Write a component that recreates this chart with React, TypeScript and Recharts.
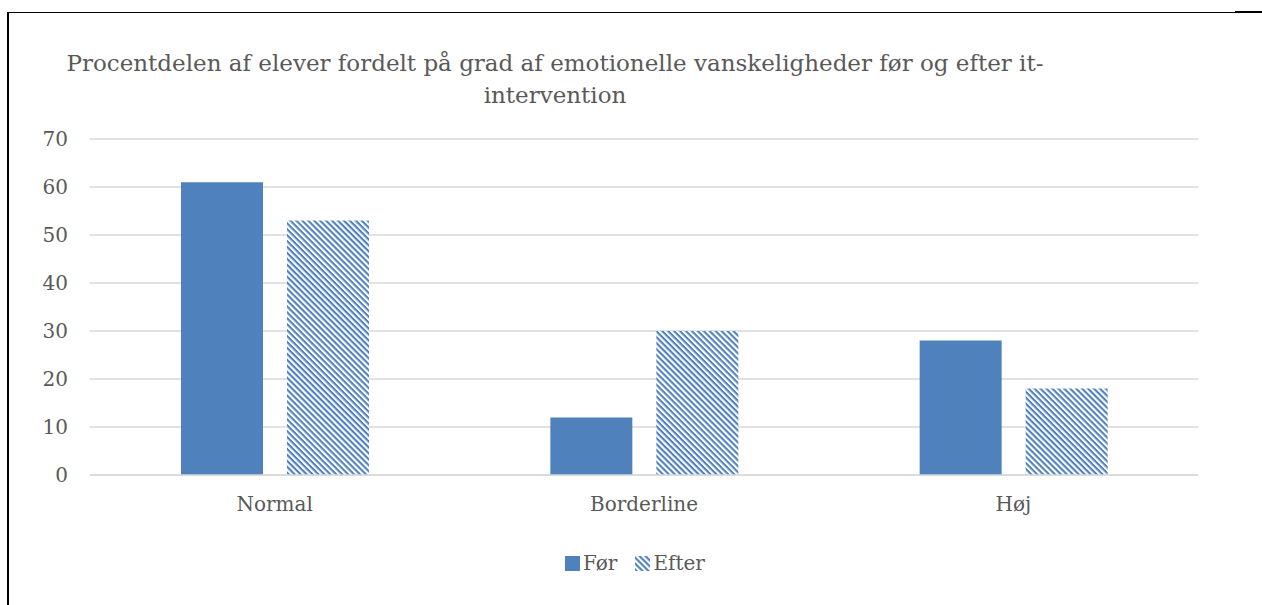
import React from "react";
import { BarChart, Bar, XAxis, YAxis, CartesianGrid } from "recharts";

const categories = ["Normal", "Borderline", "Høj"];
const forValues = [61, 12, 28];
const efterValues = [53, 30, 18];
const yTicks = [0, 10, 20, 30, 40, 50, 60, 70];

const BLUE = "#4F81BD";
const TEXT = "#595959";
const FONT = "'DejaVu Serif', serif";

const data = categories.map((name, i) => ({ name, for: forValues[i], efter: efterValues[i] }));

export default function App() {
  return (
    <div style={{ position: "absolute", left: 0, top: 0, width: 1262, height: 605, background: "#fff", fontFamily: FONT }}>
      {/* page frame */}
      <div style={{ position: "absolute", left: 7, top: 12, width: 2, height: 593, background: "#000" }} />
      <div style={{ position: "absolute", left: 7, top: 12, width: 1228, height: 1, background: "#000" }} />
      <div style={{ position: "absolute", left: 1235, top: 11, width: 27, height: 2, background: "#000" }} />

      <div style={{ position: "absolute", left: 5, width: 1100, top: 47, textAlign: "center", fontSize: 23, lineHeight: "32px", color: TEXT, whiteSpace: "nowrap" }}>
        Procentdelen af elever fordelt på grad af emotionelle vanskeligheder før og efter it-
        <br />
        intervention
      </div>

      <div style={{ position: "absolute", left: 0, top: 0 }}>
        <BarChart width={1262} height={605} data={data}
          margin={{ top: 139, right: 64, bottom: 80, left: 0 }}
          barSize={82} barGap={24}>
          <defs>
            <pattern id="hatch" width="4.2" height="4.2" patternUnits="userSpaceOnUse" patternTransform="rotate(45)">
              <rect width="4.2" height="4.2" fill="#fff" />
              <rect width="4.2" height="2.1" fill={BLUE} />
            </pattern>
          </defs>
          <CartesianGrid vertical={false} stroke="#D9D9D9" strokeWidth={1.5} />
          <XAxis dataKey="name" axisLine={{ stroke: "#D9D9D9", strokeWidth: 1.5 }} tickLine={false}
            tick={{ fill: TEXT, fontSize: 20, fontFamily: FONT }} dy={14} height={50} />
          <YAxis domain={[0, 70]} ticks={yTicks} axisLine={false} tickLine={false} width={90}
            tick={{ fill: TEXT, fontSize: 20, fontFamily: FONT, textAnchor: "end" }} dx={-14} />
          <Bar dataKey="for" fill={BLUE} isAnimationActive={false} />
          <Bar dataKey="efter" fill="url(#hatch)" isAnimationActive={false} />
        </BarChart>
      </div>

      {/* legend */}
      <div style={{ position: "absolute", top: 551, left: 565, display: "flex", alignItems: "center", fontSize: 20, color: TEXT }}>
        <svg width={15} height={15} style={{ marginRight: 3 }}>
          <rect width={15} height={15} fill={BLUE} />
        </svg>
        <span>Før</span>
        <svg width={15} height={15} style={{ marginLeft: 18, marginRight: 3 }}>
          <defs>
            <pattern id="hatchL" width="4.2" height="4.2" patternUnits="userSpaceOnUse" patternTransform="rotate(45)">
              <rect width="4.2" height="4.2" fill="#fff" />
              <rect width="4.2" height="2.1" fill={BLUE} />
            </pattern>
          </defs>
          <rect width={15} height={15} fill="url(#hatchL)" />
        </svg>
        <span>Efter</span>
      </div>
    </div>
  );
}
